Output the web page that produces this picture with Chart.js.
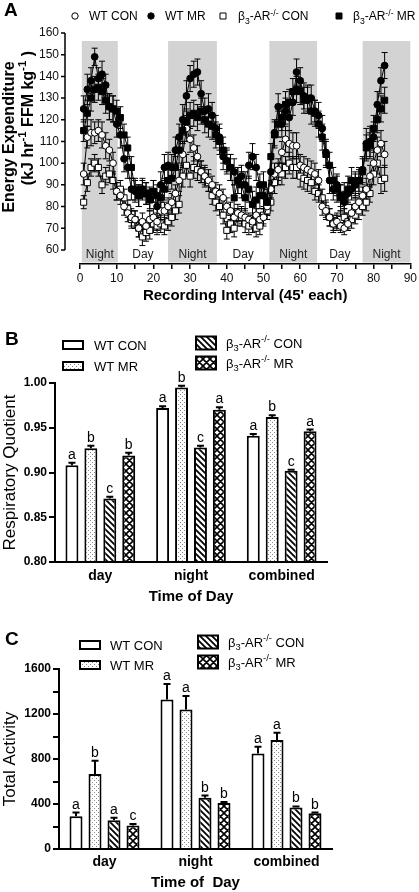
<!DOCTYPE html>
<html>
<head>
<meta charset="utf-8">
<title>Energy expenditure, RQ and activity</title>
<script src="https://cdn.jsdelivr.net/npm/chart.js@4.4.1/dist/chart.umd.min.js"></script>
<style>
  html, body { margin: 0; padding: 0; background: #fff; }
  body { width: 419px; height: 892px; position: relative; overflow: hidden; }
  .panel { position: absolute; left: 0; width: 419px; }
</style>
</head>
<body>
<div class="panel" style="top:0;height:310px"><canvas id="eeChart"></canvas></div>
<div class="panel" style="top:310px;height:300px"><canvas id="rqChart"></canvas></div>
<div class="panel" style="top:610px;height:282px"><canvas id="actChart"></canvas></div>
<script>
const FONT = '"Liberation Sans", Arial, Helvetica, sans-serif';

// ---- Panel A: energy expenditure per 45' recording interval ----
const intervals = Array.from({ length: 83 }, (_, i) => i + 1);
const eeTicks = [60, 70, 80, 90, 100, 110, 120, 130, 140, 150, 160];
const periods = [[0.5, 10.3, 'Night'], [10.3, 24, 'Day'], [24, 37.3, 'Night'], [37.3, 51.6, 'Day'],
                 [51.6, 64.6, 'Night'], [64.6, 77, 'Day'], [77, 90, 'Night']];
const nightTop = 156.3;

const eeWtCon = [95, 112, 114, 114, 115, 113, 108, 106, 100, 87,
                 85, 80, 77, 75, 74, 70, 73, 71, 74, 75,
                 73, 78, 78, 80, 82, 86, 92, 104, 116, 111,
                 107, 103, 96, 94, 92, 90, 87, 86, 84, 80,
                 78, 75, 77, 76, 75, 74, 73, 76, 74, 75,
                 80, 88, 95, 97, 105, 111, 109, 108, 108, 99,
                 98, 97, 96, 95, 92, 80, 78, 75, 72, 73,
                 71, 70, 72, 77, 80, 82, 85, 88, 94, 100,
                 106, 109, 104];
const eeWtConSem = [5, 5, 6, 5, 5, 6, 6, 5, 5, 4,
                    4, 4, 4, 4, 4, 4, 4, 3, 4, 4,
                    4, 4, 4, 4, 4, 4, 5, 6, 6, 6,
                    6, 5, 5, 5, 5, 4, 4, 4, 4, 4,
                    4, 4, 4, 4, 4, 3, 3, 3, 3, 4,
                    4, 4, 5, 5, 5, 6, 6, 6, 6, 5,
                    5, 5, 5, 5, 5, 4, 4, 4, 3, 3,
                    3, 3, 3, 4, 4, 4, 4, 5, 5, 6,
                    6, 6, 6];
const eeWtMr = [125, 134, 138, 149, 139, 141, 136, 126, 125, 118,
                113, 102, 98, 88, 87, 85, 88, 86, 84, 87,
                80, 90, 98, 99, 98, 106, 112, 120, 131, 139,
                141, 142, 132, 124, 125, 122, 116, 112, 103, 101,
                98, 96, 92, 94, 90, 99, 103, 98, 90, 85,
                82, 96, 114, 126, 118, 124, 121, 128, 142, 138,
                131, 129, 130, 124, 122, 116, 105, 92, 88, 90,
                85, 82, 86, 88, 90, 92, 97, 109, 110, 112,
                127, 138, 145];
const eeWtMrSem = [6, 7, 6, 4, 5, 6, 5, 6, 6, 6,
                   6, 6, 5, 5, 5, 5, 4, 5, 5, 5,
                   5, 6, 6, 6, 6, 6, 6, 7, 7, 6,
                   6, 6, 6, 6, 7, 6, 6, 6, 6, 5,
                   6, 6, 6, 5, 6, 6, 6, 6, 5, 6,
                   6, 6, 6, 6, 6, 6, 6, 6, 6, 6,
                   6, 6, 6, 5, 6, 6, 6, 6, 5, 5,
                   5, 5, 5, 5, 5, 5, 6, 7, 7, 7,
                   6, 6, 6];
const eeKoCon = [82, 91, 98, 100, 98, 90, 94, 95, 92, 87,
                 88, 84, 79, 74, 74, 70, 66, 68, 69, 72,
                 71, 72, 71, 73, 75, 78, 81, 94, 99, 94,
                 98, 97, 96, 94, 91, 85, 82, 80, 76, 69,
                 72, 70, 75, 75, 72, 71, 72, 70, 71, 76,
                 78, 82, 91, 95, 95, 98, 100, 98, 98, 94,
                 93, 92, 91, 87, 86, 84, 79, 75, 72, 73,
                 74, 75, 73, 74, 76, 78, 80, 82, 86, 95,
                 100, 92, 93];
const eeKoConSem = [3, 4, 4, 4, 4, 4, 4, 4, 4, 4,
                    4, 4, 4, 4, 4, 4, 4, 4, 4, 4,
                    4, 4, 4, 4, 4, 4, 4, 5, 5, 5,
                    5, 5, 5, 4, 4, 4, 4, 4, 4, 4,
                    4, 4, 4, 4, 4, 4, 4, 4, 4, 4,
                    4, 4, 5, 5, 5, 5, 5, 5, 5, 5,
                    5, 5, 5, 4, 4, 4, 4, 4, 4, 4,
                    4, 4, 4, 4, 4, 4, 4, 4, 4, 5,
                    5, 6, 6];
const eeKoMr = [115, 123, 130, 134, 135, 133, 129, 126, 125, 124,
                121, 113, 107, 98, 88, 85, 88, 86, 83, 87,
                85, 84, 88, 92, 93, 98, 106, 115, 119, 122,
                123, 121, 124, 120, 118, 117, 113, 110, 106, 101,
                98, 84, 92, 90, 84, 88, 81, 83, 85, 90,
                82, 103, 113, 118, 121, 127, 128, 133, 134, 133,
                129, 130, 124, 123, 118, 112, 104, 99, 92, 88,
                84, 85, 88, 92, 90, 92, 96, 107, 108, 116,
                120, 125, 129];
const eeKoMrSem = [5, 6, 6, 6, 6, 6, 6, 6, 6, 5,
                   5, 5, 5, 5, 5, 5, 5, 5, 5, 5,
                   5, 5, 5, 5, 5, 5, 6, 6, 6, 6,
                   6, 6, 6, 6, 6, 6, 6, 6, 6, 6,
                   6, 6, 6, 6, 6, 6, 6, 6, 6, 6,
                   6, 6, 6, 6, 6, 6, 6, 6, 6, 6,
                   6, 6, 6, 6, 6, 6, 6, 6, 6, 6,
                   6, 6, 6, 6, 6, 6, 6, 6, 6, 6,
                   6, 6, 6];

// ---- Panels B and C: group means by time of day ----
const timeLabels = ['day', 'night', 'combined'];

const rqTicks = [0.80, 0.85, 0.90, 0.95, 1.00];
const rqWtCon = [0.908, 0.972, 0.941];
const rqWtMr = [0.927, 0.995, 0.962];
const rqKoCon = [0.871, 0.928, 0.902];
const rqKoMr = [0.919, 0.970, 0.946];
const rqWtConErr = [0.003, 0.002, 0.002];
const rqWtMrErr = [0.003, 0.002, 0.002];
const rqKoConErr = [0.002, 0.002, 0.001];
const rqKoMrErr = [0.003, 0.003, 0.002];
const rqLetters = [['a', 'a', 'a'], ['b', 'b', 'b'], ['c', 'c', 'c'], ['b', 'a', 'a']];

const actTicks = [0, 200, 400, 600, 800, 1000, 1200, 1400, 1600];
const actWtCon = [292, 1330, 850];
const actWtMr = [667, 1240, 968];
const actKoCon = [255, 455, 370];
const actKoMr = [210, 410, 318];
const actWtConErr = [32, 136, 59];
const actWtMrErr = [118, 120, 66];
const actKoConErr = [22, 20, 8];
const actKoMrErr = [12, 8, 6];
const actLetters = [['a', 'a', 'a'], ['b', 'a', 'a'], ['a', 'b', 'b'], ['c', 'b', 'b']];

// names with sub/superscripts: 0 normal, -1 subscript, 1 superscript
const koName = [['β', 0], ['3', -1], ['-AR', 0], ['-/-', 1]];
const groupNames = [[['WT CON', 0]], [['WT MR', 0]], koName.concat([[' CON', 0]]), koName.concat([[' MR', 0]])];

function drawRich(ctx, parts, x, y, size, weight, align) {
  let w = 0;
  parts.forEach(([t, k]) => {
    ctx.font = weight + ' ' + (k ? size * 0.72 : size) + 'px ' + FONT;
    w += ctx.measureText(t).width;
  });
  let cx = align === 'center' ? x - w / 2 : align === 'right' ? x - w : x;
  ctx.textAlign = 'left';
  ctx.textBaseline = 'alphabetic';
  parts.forEach(([t, k]) => {
    ctx.font = weight + ' ' + (k ? size * 0.72 : size) + 'px ' + FONT;
    const dy = k === -1 ? size * 0.28 : k === 1 ? -size * 0.4 : 0;
    ctx.fillText(t, cx, y + dy);
    cx += ctx.measureText(t).width;
  });
}

function makePattern(kind) {
  const s = { dots: 4, stripes: 6, hatch: 7 }[kind];
  const c = document.createElement('canvas');
  c.width = c.height = s;
  const g = c.getContext('2d');
  g.fillStyle = '#fff';
  g.fillRect(0, 0, s, s);
  if (kind === 'dots') {
    g.fillStyle = '#888';
    g.fillRect(0, 0, 1, 1);
    g.fillRect(2, 2, 1, 1);
  } else {
    g.strokeStyle = '#000';
    g.lineWidth = kind === 'stripes' ? 1.8 : 1.6;
    g.beginPath();
    for (let k = -1; k <= 1; k++) { g.moveTo(k * s - 1, -1); g.lineTo(k * s + s + 1, s + 1); }
    if (kind === 'hatch') {
      for (let k = 0; k <= 2; k++) { g.moveTo(k * s + 1, -1); g.lineTo(k * s - s - 1, s + 1); }
    }
    g.stroke();
  }
  return g.createPattern(c, 'repeat');
}
const fills = ['#fff', makePattern('dots'), makePattern('stripes'), makePattern('hatch')];

function drawMarker(ctx, style, filled, x, y, r) {
  ctx.beginPath();
  if (style === 'circle') ctx.arc(x, y, r, 0, Math.PI * 2);
  else ctx.rect(x - r, y - r, 2 * r, 2 * r);
  ctx.fillStyle = filled ? '#000' : '#fff';
  ctx.fill();
  ctx.lineWidth = 1;
  ctx.strokeStyle = '#000';
  ctx.stroke();
}

// ---------- Panel A ----------
function eeSeries(label, values, sem, style, filled, order) {
  return {
    label, order, sem,
    data: intervals.map((x, i) => ({ x, y: values[i] })),
    borderColor: '#000', borderWidth: 1, tension: 0, fill: false,
    pointStyle: style, pointRadius: style === 'rect' ? 4.3 : 3.4,
    pointBackgroundColor: filled ? '#000' : '#fff', pointBorderColor: '#000', pointBorderWidth: 1
  };
}

const eePlugin = {
  id: 'eePlugin',
  beforeDatasetsDraw(chart) {
    const { ctx, chartArea: a, scales: { x, y } } = chart;
    ctx.save();
    const yTop = y.getPixelForValue(nightTop);
    ctx.fillStyle = '#d3d3d3';
    periods.forEach(([s, e, name]) => {
      if (name !== 'Night') return;
      const x0 = x.getPixelForValue(s), x1 = x.getPixelForValue(e);
      ctx.fillRect(x0, yTop, x1 - x0, a.bottom - 1.5 - yTop);
    });
    ctx.fillStyle = '#222';
    ctx.font = '12px ' + FONT;
    ctx.textAlign = 'center';
    ctx.textBaseline = 'middle';
    periods.forEach(([s, e, name]) => ctx.fillText(name, x.getPixelForValue((s + e) / 2), a.bottom - 9));
    // SEM bars
    ctx.strokeStyle = '#000';
    ctx.lineWidth = 1;
    chart.data.datasets.forEach((ds, i) => {
      chart.getDatasetMeta(i).data.forEach((pt, j) => {
        const v = ds.data[j].y;
        const hi = y.getPixelForValue(v + ds.sem[j]), lo = y.getPixelForValue(v - ds.sem[j]);
        ctx.beginPath();
        ctx.moveTo(pt.x, hi); ctx.lineTo(pt.x, lo);
        ctx.moveTo(pt.x - 3, hi); ctx.lineTo(pt.x + 3, hi);
        ctx.moveTo(pt.x - 3, lo); ctx.lineTo(pt.x + 3, lo);
        ctx.stroke();
      });
    });
    ctx.restore();
  },
  afterDraw(chart) {
    const { ctx, scales: { y } } = chart;
    ctx.save();
    // y axis sits apart from the x axis, GraphPad style
    const axX = 65;
    ctx.strokeStyle = '#000';
    ctx.lineWidth = 1.5;
    ctx.beginPath();
    ctx.moveTo(axX, y.getPixelForValue(eeTicks[0]));
    ctx.lineTo(axX, y.getPixelForValue(eeTicks[eeTicks.length - 1]));
    eeTicks.forEach(v => { const py = y.getPixelForValue(v); ctx.moveTo(axX - 4, py); ctx.lineTo(axX, py); });
    ctx.stroke();
    ctx.fillStyle = '#111';
    ctx.font = '12px ' + FONT;
    ctx.textAlign = 'right';
    ctx.textBaseline = 'middle';
    eeTicks.forEach(v => ctx.fillText(v, axX - 6, y.getPixelForValue(v)));

    // y title, two lines
    ctx.fillStyle = '#000';
    ctx.save();
    ctx.translate(10, 137);
    ctx.rotate(-Math.PI / 2);
    ctx.font = 'bold 16px ' + FONT;
    ctx.textAlign = 'center';
    ctx.textBaseline = 'middle';
    ctx.fillText('Energy Expenditure', 0, 0);
    ctx.restore();
    ctx.save();
    ctx.translate(27, 118);
    ctx.rotate(-Math.PI / 2);
    drawRich(ctx, [['(kJ hr', 0], ['-1', 1], [' FFM kg', 0], ['-1', 1], [' )', 0]], 0, 5.6, 16, 'bold', 'center');
    ctx.restore();

    // legend row
    const ly = 16;
    const items = [['circle', false, 75, 89], ['circle', true, 151, 165], ['rect', false, 223, 238], ['rect', true, 339, 353]];
    items.forEach(([style, filled, mx, tx], i) => {
      drawMarker(ctx, style, filled, mx, ly, style === 'rect' ? 3 : 3.2);
      ctx.fillStyle = '#000';
      drawRich(ctx, groupNames[i], tx, ly + 4.3, 12, 'normal', 'left');
    });

    ctx.fillStyle = '#000';
    ctx.font = 'bold 19px ' + FONT;
    ctx.textAlign = 'left';
    ctx.textBaseline = 'alphabetic';
    ctx.fillText('A', 4, 16);
    ctx.restore();
  }
};

new Chart(document.getElementById('eeChart'), {
  type: 'line',
  data: {
    datasets: [
      eeSeries('WT CON', eeWtCon, eeWtConSem, 'circle', false, 2),
      eeSeries('WT MR', eeWtMr, eeWtMrSem, 'circle', true, 0),
      eeSeries('β3-AR-/- CON', eeKoCon, eeKoConSem, 'rect', false, 3),
      eeSeries('β3-AR-/- MR', eeKoMr, eeKoMrSem, 'rect', true, 1)
    ]
  },
  options: {
    responsive: true,
    maintainAspectRatio: false,
    animation: false,
    events: [],
    layout: { padding: { top: 33, right: 6, left: 0, bottom: 0 } },
    plugins: { legend: { display: false }, tooltip: { enabled: false } },
    scales: {
      x: {
        type: 'linear', min: 0, max: 90,
        ticks: { stepSize: 5, autoSkip: false, maxRotation: 0, padding: 2, color: '#111',
                 font: { family: FONT, size: 12 }, callback: v => (v % 10 === 0 ? v : '') },
        grid: { drawOnChartArea: false, drawTicks: true, tickLength: 5, color: '#000', lineWidth: 1.5 },
        border: { color: '#000', width: 1.5 },
        title: { display: true, text: "Recording Interval (45' each)", color: '#000',
                 font: { family: FONT, size: 15, weight: 'bold' }, padding: { top: 0, bottom: 5 } },
        afterFit: s => { s.height = 46; }
      },
      y: {
        min: 53.5, max: 160,
        ticks: { display: false },
        grid: { display: false },
        border: { display: false },
        afterFit: s => { s.width = 80; }
      }
    }
  },
  plugins: [eePlugin]
});

// ---------- Panels B and C ----------
function barExtras(cfg) {
  return {
    id: 'barExtras' + cfg.letter,
    afterDatasetsDraw(chart) {
      const { ctx, scales: { y } } = chart;
      ctx.save();
      ctx.strokeStyle = '#000';
      ctx.fillStyle = '#000';
      ctx.lineWidth = 2;
      chart.data.datasets.forEach((ds, i) => {
        chart.getDatasetMeta(i).data.forEach((bar, j) => {
          const top = y.getPixelForValue(ds.data[j] + ds.err[j]);
          ctx.beginPath();
          ctx.moveTo(bar.x, bar.y); ctx.lineTo(bar.x, top);
          ctx.moveTo(bar.x - 3.5, top); ctx.lineTo(bar.x + 3.5, top);
          ctx.stroke();
          ctx.font = '14px ' + FONT;
          ctx.textAlign = 'center';
          ctx.textBaseline = 'alphabetic';
          ctx.fillText(ds.letters[j], bar.x, top - 4);
        });
      });
      // legend, two columns
      cfg.legend.forEach(([bx, by, bh, tx], i) => {
        ctx.fillStyle = fills[i];
        ctx.fillRect(bx, by - bh / 2, 20, bh);
        ctx.lineWidth = 2;
        ctx.strokeRect(bx, by - bh / 2, 20, bh);
        ctx.fillStyle = '#000';
        drawRich(ctx, groupNames[i], tx, by + 4.6, 13, 'normal', 'left');
      });
      ctx.fillStyle = '#000';
      ctx.font = 'bold 19px ' + FONT;
      ctx.textAlign = 'left';
      ctx.fillText(cfg.letter, 5, 35);
      ctx.restore();
    }
  };
}

function groupBars(cfg) {
  const labels = ['WT CON', 'WT MR', 'β3-AR-/- CON', 'β3-AR-/- MR'];
  return new Chart(document.getElementById(cfg.id), {
    type: 'bar',
    data: {
      labels: timeLabels,
      datasets: cfg.values.map((vals, i) => ({
        label: labels[i], data: vals, err: cfg.errs[i], letters: cfg.letters[i],
        backgroundColor: fills[i], borderColor: '#000', borderWidth: 2, base: cfg.ticks[0],
        categoryPercentage: 0.835, barPercentage: 0.684
      }))
    },
    options: {
      responsive: true,
      maintainAspectRatio: false,
      animation: false,
      events: [],
      layout: { padding: { top: cfg.top, right: cfg.right, left: 0, bottom: 0 } },
      plugins: { legend: { display: false }, tooltip: { enabled: false } },
      scales: {
        x: {
          grid: { display: false, drawTicks: false, tickLength: 0 },
          border: { color: '#000', width: 2 },
          ticks: { color: '#000', padding: cfg.labelPad, font: { family: FONT, size: 14, weight: 'bold' } },
          title: { display: true, text: cfg.xTitle, color: '#000',
                   font: { family: FONT, size: 15, weight: 'bold' }, padding: { top: 0, bottom: cfg.titlePad } },
          afterFit: s => { s.height = cfg.xHeight; }
        },
        y: {
          min: cfg.ticks[0], max: cfg.ticks[cfg.ticks.length - 1],
          afterBuildTicks: s => { s.ticks = cfg.ticks.map(v => ({ value: v })); },
          grid: { drawOnChartArea: false, drawTicks: true, tickLength: 6, color: '#000', lineWidth: 2 },
          border: { color: '#000', width: 2 },
          ticks: { color: '#000', padding: 2, font: { family: FONT, size: 12, weight: 'bold' }, callback: cfg.tickFmt },
          title: { display: true, text: cfg.yTitle, color: '#000', font: { family: FONT, size: 17 }, padding: 0 },
          afterFit: s => { s.width = cfg.yWidth; }
        }
      }
    },
    plugins: [barExtras(cfg)]
  });
}

groupBars({
  id: 'rqChart', letter: 'B',
  values: [rqWtCon, rqWtMr, rqKoCon, rqKoMr],
  errs: [rqWtConErr, rqWtMrErr, rqKoConErr, rqKoMrErr],
  letters: rqLetters, ticks: rqTicks, tickFmt: v => v.toFixed(2),
  yTitle: 'Respiratory Quotient', xTitle: 'Time of Day',
  top: 73, right: 92, yWidth: 55, xHeight: 48, labelPad: 6, titlePad: 4,
  legend: [[63, 35, 8, 94], [63, 56, 8, 94], [196, 33, 13, 226], [196, 53, 13, 226]]
});

groupBars({
  id: 'actChart', letter: 'C',
  values: [actWtCon, actWtMr, actKoCon, actKoMr],
  errs: [actWtConErr, actWtMrErr, actKoConErr, actKoMrErr],
  letters: actLetters, ticks: actTicks, tickFmt: v => (v % 400 === 0 ? v : ''),
  yTitle: 'Total Activity', xTitle: 'Time of  Day',
  top: 59, right: 87, yWidth: 59, xHeight: 43, labelPad: 5, titlePad: 0,
  legend: [[80, 35, 8, 110], [80, 55, 8, 110], [198, 32, 13, 228], [198, 52, 13, 228]]
});
</script>
</body>
</html>
